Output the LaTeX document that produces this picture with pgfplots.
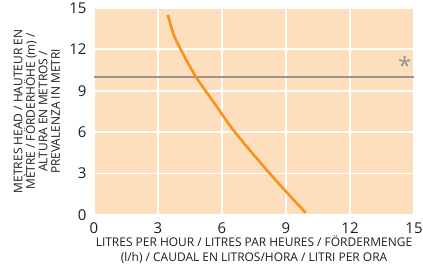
\documentclass[border=0pt]{standalone}
\usepackage{fontspec}
\setmainfont{Open Sans}
\usepackage{pgfplots}
\pgfplotsset{compat=1.18}
\definecolor{peach}{RGB}{253,223,190}
\definecolor{curve}{RGB}{247,146,30}
\definecolor{refgray}{RGB}{148,148,148}
\definecolor{txt}{RGB}{30,28,28}
\begin{document}
\begin{tikzpicture}
\begin{axis}[
  name=ax,
  scale only axis, width=320bp, height=207bp,
  xmin=0, xmax=15, ymin=0, ymax=15,
  xtick={0,3,...,15}, ytick={0,3,...,15},
  axis background/.style={fill=peach},
  axis line style={draw=none},
  major tick length=0pt,
  grid=major, major grid style={white, line width=1.8pt},
  tick label style={font=\fontsize{15}{15}\selectfont, text=txt},
  /pgf/number format/assume math mode=true,
  xticklabel style={yshift=-4bp},
  yticklabel style={xshift=-4bp},
  xlabel={LITRES PER HOUR / LITRES PAR HEURES / FÖRDERMENGE\\(l/h) / CAUDAL EN LITROS/HORA / LITRI PER ORA},
  ylabel={METRES HEAD / HAUTEUR EN\\MÈTRE / FÖRDERHÖHE (m) /\\ALTURA EN METROS /\\PREVALENZA IN METRI},
  xlabel style={at={(axis description cs:0.5,0)}, anchor=base, yshift=-46.1bp, inner sep=0pt,
    font=\fontsize{12}{14.3}\selectfont, align=center, text=txt},
  ylabel style={at={([xshift=-34bp]axis description cs:0,0.5)}, anchor=south, inner sep=0pt,
    font=\fontsize{12}{12.5}\selectfont, align=center, text=txt},
  clip=false,
]
\addplot[refgray, line width=2.8pt] coordinates {(0,10) (15,10)};
\addplot[curve, line width=2.6pt, smooth] coordinates {
  (3.46,14.5) (3.75,13.0) (4.2,11.6) (4.79,9.97) (5.55,8.3) (6.65,5.91) (8.44,2.65) (9.92,0.16)
};
\node[text=refgray, font=\fontsize{24}{24}\selectfont, inner sep=0pt, anchor=base] at (axis cs:14.57,10.14) {*};
\end{axis}
\pgfresetboundingbox
\path[use as bounding box] ([shift={(-94bp,-52.1bp)}]ax.south west) rectangle ([shift={(9bp,7.9bp)}]ax.north east);
\end{tikzpicture}
\end{document}
